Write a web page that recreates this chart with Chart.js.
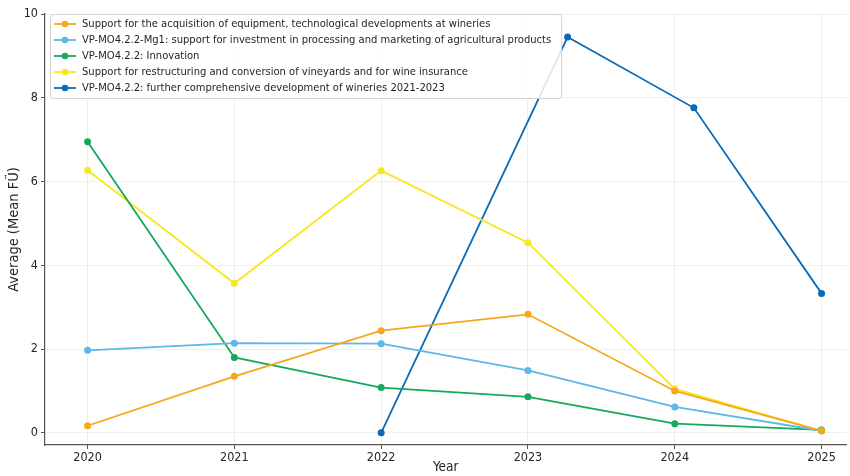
<!DOCTYPE html>
<html>
<head>
<meta charset="utf-8">
<script src="https://cdn.jsdelivr.net/npm/chart.js@4/dist/chart.umd.min.js"></script>
<style>
  html, body { margin: 0; padding: 0; background: #fff; }
  #wrap { width: 850px; height: 476px; }
</style>
</head>
<body>
<div id="wrap"><canvas id="chart" width="850" height="476"></canvas></div>
<script>
'use strict'

const years = [2020, 2021, 2022, 2023, 2024, 2025]

const equipment = [0.17, 1.35, 2.44, 2.83, 1.00, 0.05]
const processing = [1.97, 2.14, 2.13, 1.49, 0.62, 0.05]
const innovation = [6.95, 1.80, 1.08, 0.86, 0.22, 0.07]
const restructuring = [6.27, 3.57, 6.26, 4.54, 1.05, 0.05]

// this one is sampled off the yearly grid
const wineriesX = [2022, 2023.27, 2024.13, 2025]
const wineriesY = [0.00, 9.45, 7.76, 3.33]

const yTicks = [0, 2, 4, 6, 8, 10]

const seriesNames = [
  'Support for the acquisition of equipment, technological developments at wineries',
  'VP-MO4.2.2-Mg1: support for investment in processing and marketing of agricultural products',
  'VP-MO4.2.2: Innovation',
  'Support for restructuring and conversion of vineyards and for wine insurance',
  'VP-MO4.2.2: further comprehensive development of wineries 2021-2023'
]
const seriesColors = ['#f5a81c', '#5cb8e6', '#16a85c', '#f6e81c', '#0b6bb8']

const FONT = 'DejaVu Sans Condensed'

const toPoints = (xs, ys) => xs.map((x, i) => ({ x: x, y: ys[i] }))

const makeSet = (idx, pts) => ({
  label: seriesNames[idx],
  data: pts,
  borderColor: seriesColors[idx],
  backgroundColor: seriesColors[idx],
  borderWidth: 1.8,
  pointRadius: 3.5,
  pointHoverRadius: 3.5,
  pointBorderWidth: 0,
  tension: 0
})

// legend drawn inside the plot, matplotlib style (line + marker)
const insideLegend = {
  id: 'insideLegend',
  afterDraw(chart) {
    const ctx = chart.ctx
    const area = chart.chartArea
    const x0 = area.left + 5
    const y0 = area.top
    const rowH = 16
    ctx.save()
    ctx.font = '11.1px "' + FONT + '"'
    let maxW = 0
    chart.data.datasets.forEach(ds => {
      maxW = Math.max(maxW, ctx.measureText(ds.label).width)
    })
    const w = 32 + maxW + 10
    const h = rowH * chart.data.datasets.length + 4
    ctx.fillStyle = 'rgba(255,255,255,0.85)'
    ctx.strokeStyle = '#d4d4d4'
    ctx.lineWidth = 1
    ctx.beginPath()
    ctx.roundRect(x0 + 0.5, y0 + 0.5, w, h, 3)
    ctx.fill()
    ctx.stroke()
    chart.data.datasets.forEach((ds, i) => {
      const cy = y0 + 10 + i * rowH
      ctx.strokeStyle = ds.borderColor
      ctx.lineWidth = 1.8
      ctx.beginPath()
      ctx.moveTo(x0 + 4, cy)
      ctx.lineTo(x0 + 26, cy)
      ctx.stroke()
      ctx.fillStyle = ds.borderColor
      ctx.beginPath()
      ctx.arc(x0 + 15, cy, 3.3, 0, Math.PI * 2)
      ctx.fill()
      ctx.fillStyle = '#1f1f1f'
      ctx.textBaseline = 'middle'
      ctx.fillText(ds.label, x0 + 32, cy + 0.5)
    })
    ctx.restore()
  }
}

const gridStyle = {
  color: '#efefef',
  lineWidth: 1,
  tickColor: '#555',
  tickLength: 4,
  drawOnChartArea: true
}

new Chart(document.getElementById('chart'), {
  type: 'line',
  data: {
    datasets: [
      makeSet(0, toPoints(years, equipment)),
      makeSet(1, toPoints(years, processing)),
      makeSet(2, toPoints(years, innovation)),
      makeSet(3, toPoints(years, restructuring)),
      makeSet(4, toPoints(wineriesX, wineriesY))
    ]
  },
  options: {
    responsive: false,
    animation: false,
    layout: { padding: { top: 14, right: 0, left: 0, bottom: 0 } },
    plugins: {
      legend: { display: false },
      tooltip: { enabled: false }
    },
    scales: {
      x: {
        type: 'linear',
        min: 2019.71,
        max: 2025.17,
        afterBuildTicks: (scale) => { scale.ticks = years.map(v => ({ value: v })) },
        afterFit: (scale) => { scale.height = 31 },
        ticks: {
          color: '#262626',
          font: { family: FONT, size: 12.5 },
          padding: 1,
          maxRotation: 0,
          callback: (v) => String(v)
        },
        grid: Object.assign({}, gridStyle),
        border: { display: true, color: '#555', width: 1.2 },
        title: {
          display: true,
          text: 'Year',
          color: '#262626',
          font: { family: FONT, size: 13.5 },
          padding: { top: 0, bottom: 0 }
        }
      },
      y: {
        type: 'linear',
        min: -0.29,
        max: 10,
        afterBuildTicks: (scale) => { scale.ticks = yTicks.map(v => ({ value: v })) },
        afterFit: (scale) => { scale.width = 45 },
        ticks: {
          color: '#262626',
          font: { family: FONT, size: 12.5 },
          padding: 3
        },
        grid: Object.assign({}, gridStyle),
        border: { display: true, color: '#555', width: 1.2 },
        title: {
          display: true,
          text: 'Average (Mean FÜ)',
          color: '#262626',
          font: { family: FONT, size: 14.5 },
          padding: { top: 6, bottom: 3 }
        }
      }
    }
  },
  plugins: [insideLegend]
})
</script>
</body>
</html>
